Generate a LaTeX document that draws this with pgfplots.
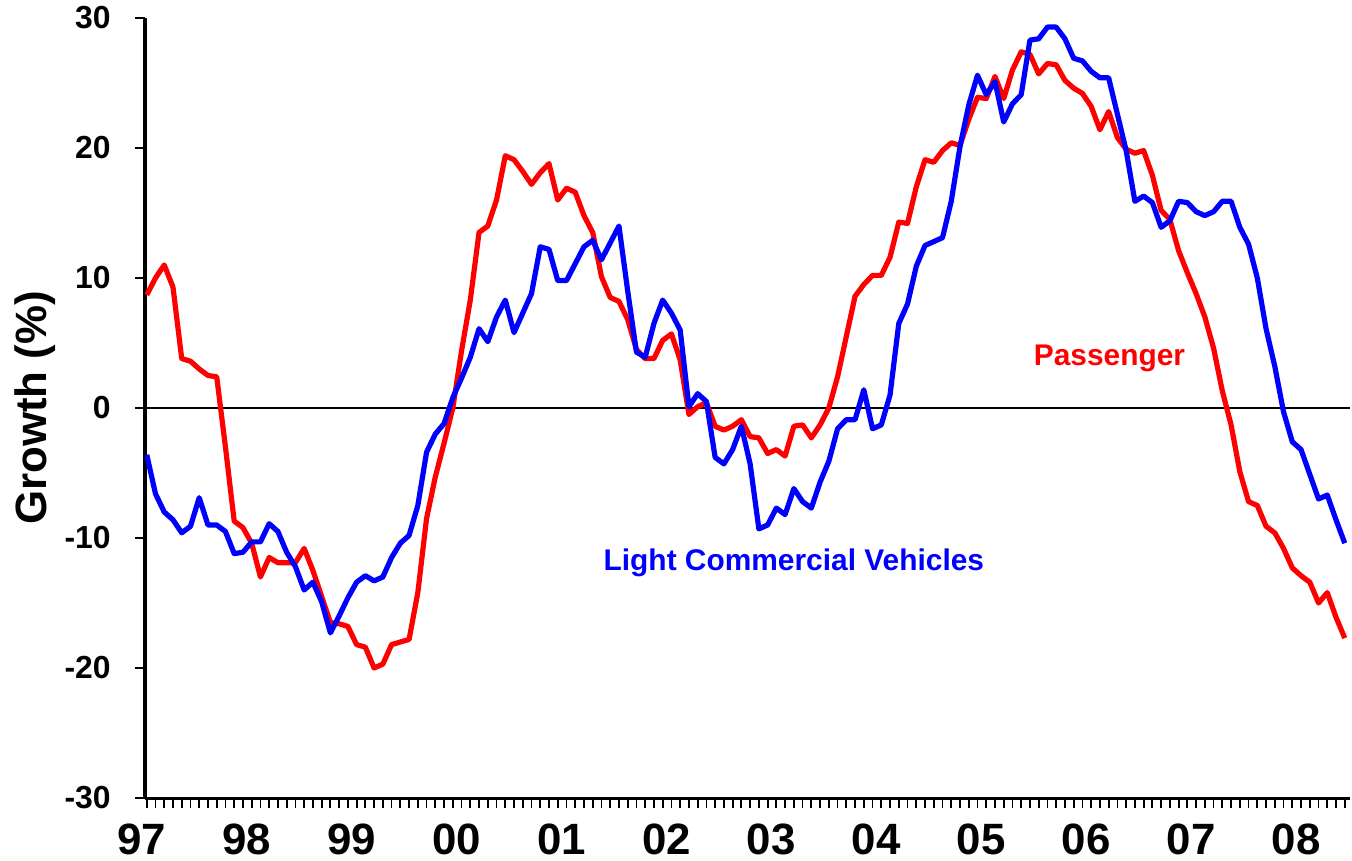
\documentclass[border=0pt]{standalone}
\usepackage{fontspec}
\setmainfont{Liberation Sans}
\usepackage{pgfplots}
\pgfplotsset{compat=1.18}

\begin{document}
\begin{tikzpicture}
\begin{axis}[
    scale only axis,
    width=602.5bp, height=390bp,
    xmin=-0.2, xmax=137.6,
    ymin=-30, ymax=30,
    axis x line=bottom, axis y line=left,
    axis line style={-, black},
    x axis line style={line width=1.5bp},
    y axis line style={line width=2.2bp},
    xtick={0,12,...,132},
    xticklabels={97,98,99,00,01,02,03,04,05,06,07,08},
    minor xtick={0,1,...,137},
    ytick={-30,-20,...,30},
    tick align=outside,
    major tick length=5bp, minor tick length=5bp,
    tick style={black, line width=0.9bp},
    /pgf/number format/assume math mode=true,
    xticklabel style={font=\fontsize{22}{24}\selectfont\bfseries, inner sep=0pt, anchor=north, yshift=-7.5bp, xshift=-2.5bp},
    yticklabel style={font=\fontsize{16}{18}\selectfont\bfseries, inner sep=0pt, anchor=east, xshift=-12bp},
    ylabel={Growth (\%)},
    ylabel style={font=\fontsize{22}{24}\selectfont\bfseries, at={(rel axis cs:0,0.5)}, anchor=center, yshift=55bp, inner sep=0pt},
]
\addplot[black, line width=1.4bp] coordinates {(-0.2,0) (137.6,0)};
% Passenger (months since Jan 1997)
\addplot[red, line width=2.6bp, line join=round] coordinates {
(0,8.7) (1,10.0) (2,11.0) (3,9.3) (4,3.8) (5,3.6) (6,3.0) (7,2.5) (8,2.4) (9,-3.0)
(10,-8.7) (11,-9.2) (12,-10.4) (13,-13.0) (14,-11.5) (15,-11.9) (16,-11.9) (17,-11.9) (18,-10.8) (19,-12.5)
(20,-14.5) (21,-16.5) (22,-16.6) (23,-16.8) (24,-18.2) (25,-18.4) (26,-20.0) (27,-19.7) (28,-18.2) (29,-18.0)
(30,-17.8) (31,-14.2) (32,-8.5) (33,-5.3) (34,-2.7) (35,0.0) (36,4.4) (37,8.3) (38,13.5) (39,14.0)
(40,16.0) (41,19.4) (42,19.1) (43,18.2) (44,17.2) (45,18.1) (46,18.8) (47,16.0) (48,16.9) (49,16.6)
(50,14.8) (51,13.5) (52,10.1) (53,8.5) (54,8.2) (55,6.8) (56,4.5) (57,3.8) (58,3.8) (59,5.2)
(60,5.7) (61,3.7) (62,-0.5) (63,0.1) (64,0.4) (65,-1.4) (66,-1.7) (67,-1.4) (68,-0.9) (69,-2.2)
(70,-2.3) (71,-3.5) (72,-3.2) (73,-3.7) (74,-1.4) (75,-1.3) (76,-2.3) (77,-1.3) (78,0.0) (79,2.4)
(80,5.5) (81,8.6) (82,9.5) (83,10.2) (84,10.2) (85,11.6) (86,14.3) (87,14.2) (88,17.0) (89,19.1)
(90,18.9) (91,19.8) (92,20.4) (93,20.2) (94,22.2) (95,23.9) (96,23.8) (97,25.5) (98,23.8) (99,26.0)
(100,27.4) (101,27.2) (102,25.7) (103,26.5) (104,26.4) (105,25.2) (106,24.6) (107,24.2) (108,23.2) (109,21.4)
(110,22.8) (111,20.8) (112,19.9) (113,19.6) (114,19.8) (115,17.9) (116,15.2) (117,14.5) (118,12.1) (119,10.4)
(120,8.8) (121,7.0) (122,4.6) (123,1.3) (124,-1.3) (125,-4.9) (126,-7.2) (127,-7.5) (128,-9.1) (129,-9.6)
(130,-10.8) (131,-12.3) (132,-12.9) (133,-13.4) (134,-15.0) (135,-14.2) (136,-16.1) (137,-17.7)
};
% Light Commercial Vehicles
\addplot[blue, line width=2.6bp, line join=round] coordinates {
(0,-3.6) (1,-6.6) (2,-8.0) (3,-8.6) (4,-9.6) (5,-9.1) (6,-6.9) (7,-9.0) (8,-9.0) (9,-9.5)
(10,-11.2) (11,-11.1) (12,-10.3) (13,-10.3) (14,-8.9) (15,-9.5) (16,-11.1) (17,-12.2) (18,-14.0) (19,-13.4)
(20,-14.9) (21,-17.3) (22,-16.0) (23,-14.6) (24,-13.4) (25,-12.9) (26,-13.3) (27,-13.0) (28,-11.5) (29,-10.4)
(30,-9.8) (31,-7.5) (32,-3.4) (33,-2.0) (34,-1.2) (35,0.8) (36,2.3) (37,3.9) (38,6.1) (39,5.1)
(40,7.0) (41,8.3) (42,5.8) (43,7.3) (44,8.8) (45,12.4) (46,12.2) (47,9.8) (48,9.8) (49,11.1)
(50,12.4) (51,12.9) (52,11.4) (53,12.7) (54,14.0) (55,9.0) (56,4.3) (57,3.9) (58,6.5) (59,8.3)
(60,7.3) (61,6.0) (62,0.1) (63,1.1) (64,0.5) (65,-3.8) (66,-4.3) (67,-3.2) (68,-1.4) (69,-4.3)
(70,-9.3) (71,-9.0) (72,-7.7) (73,-8.2) (74,-6.2) (75,-7.2) (76,-7.7) (77,-5.7) (78,-4.1) (79,-1.6)
(80,-0.9) (81,-0.9) (82,1.4) (83,-1.6) (84,-1.3) (85,1.0) (86,6.5) (87,8.0) (88,10.9) (89,12.5)
(90,12.8) (91,13.1) (92,15.9) (93,20.1) (94,23.3) (95,25.6) (96,24.1) (97,25.1) (98,22.0) (99,23.4)
(100,24.1) (101,28.3) (102,28.4) (103,29.3) (104,29.3) (105,28.4) (106,26.9) (107,26.7) (108,25.9) (109,25.4)
(110,25.4) (111,22.6) (112,19.8) (113,15.9) (114,16.3) (115,15.8) (116,13.9) (117,14.4) (118,15.9) (119,15.8)
(120,15.1) (121,14.8) (122,15.1) (123,15.9) (124,15.9) (125,13.9) (126,12.6) (127,10.0) (128,6.1) (129,3.2)
(130,-0.3) (131,-2.6) (132,-3.2) (133,-5.1) (134,-7.0) (135,-6.7) (136,-8.6) (137,-10.4)
};
\node[text=blue, font=\fontsize{15}{18}\selectfont\bfseries] at (axis cs:74.0,-11.9) {Light Commercial Vehicles};
\node[text=red, font=\fontsize{15}{18}\selectfont\bfseries] at (axis cs:110.1,3.85) {Passenger};
\end{axis}
\pgfresetboundingbox
\path ([shift={(-72.5bp,-31.5bp)}]current axis.south west) rectangle ([shift={(1bp,9bp)}]current axis.north east);
\end{tikzpicture}
\end{document}
